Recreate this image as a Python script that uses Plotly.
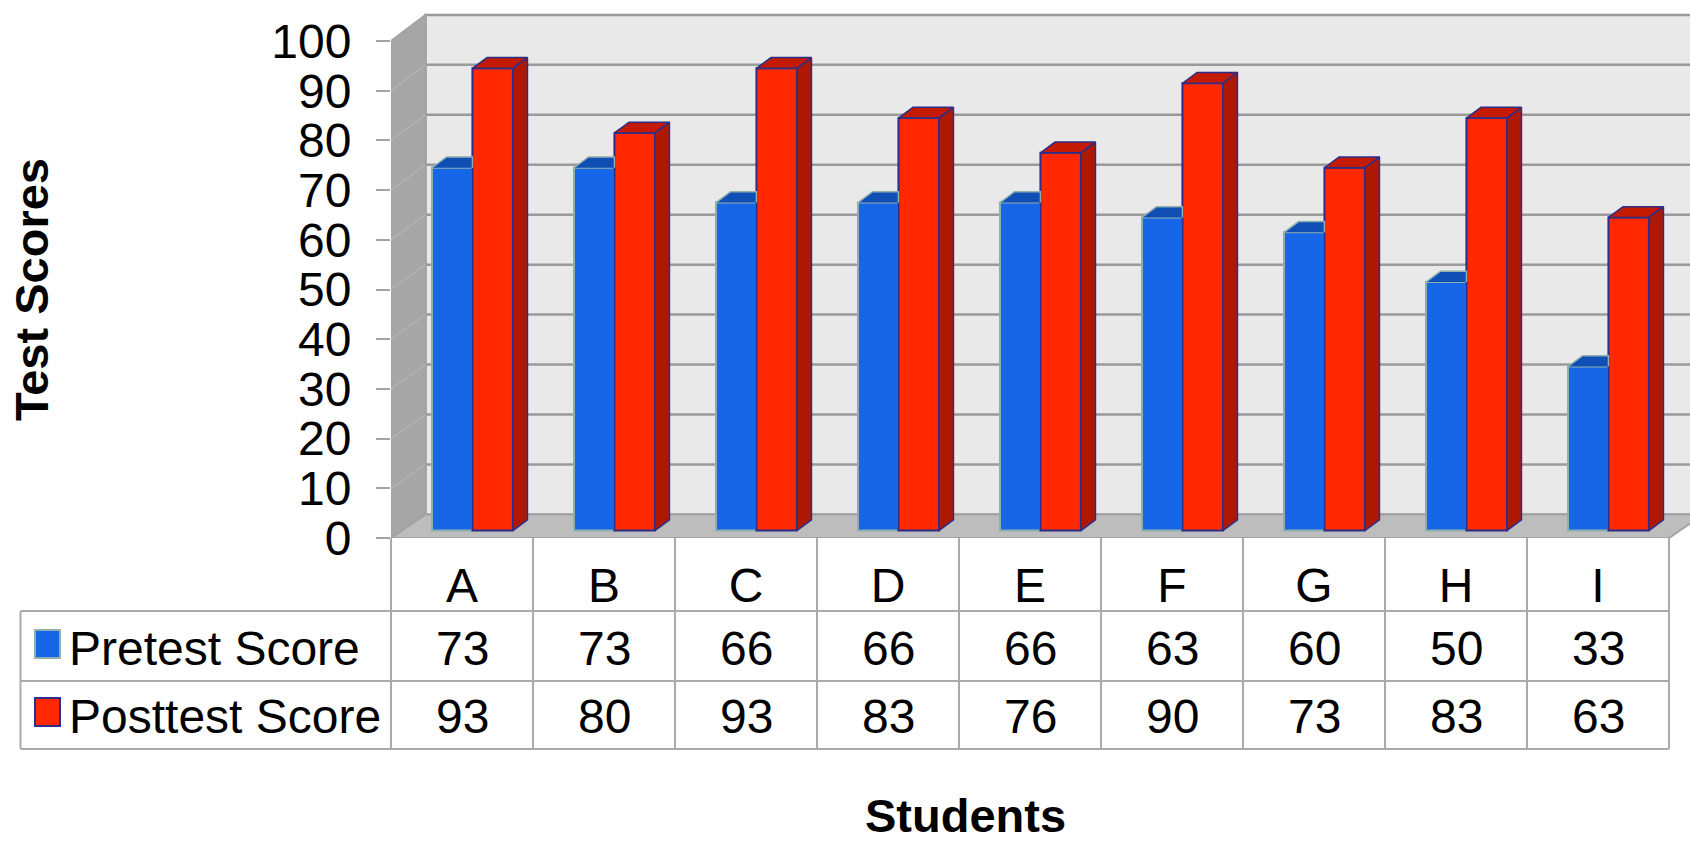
import plotly.graph_objects as go

students = ["A", "B", "C", "D", "E", "F", "G", "H", "I"]
pretest = [73, 73, 66, 66, 66, 63, 60, 50, 33]
posttest = [93, 80, 93, 83, 76, 90, 73, 83, 63]
y_ticks = list(range(0, 101, 10))

FONT = "Liberation Sans"
WIDTH, HEIGHT = 1690, 842
LEFT, TOP, BOTTOM = 391, 13, 538
UNIT_X, UNIT_Y = 142.0, 4.97

# Pseudo-3D projection, in axis units
WALL_DX, WALL_DY = 0.243, 4.75
BACK_SCALE = 1.005
BAR_DX, BAR_DY = 0.1025, 2.17
BAR_W = 0.285
BAR_LIFT = 1.5
BLUE_OFFSET, RED_OFFSET = -0.2115, 0.0735

WALL_LINE = "#A3A3A3"
GRID = "#9A9A9A"
TABLE_LINE = "#ABABAB"
BLUE, BLUE_TOP, BLUE_EDGE = "#1766E8", "#0F4FB5", "#8FB0AE"
RED, RED_TOP, RED_SIDE, RED_EDGE = "#FF2800", "#C41A00", "#AF1800", "#2B2F8C"


def px(x):
    return (x - LEFT) / (WIDTH - LEFT)


def py(y):
    return (BOTTOM - y) / (BOTTOM - TOP)


def back(t):
    """Height on the back wall of a value on the front axis."""
    return t * BACK_SCALE + WALL_DY


def polygon(points, fill, line=WALL_LINE, width=2):
    path = "M" + "L".join(f"{x},{y}" for x, y in points) + "Z"
    return dict(type="path", path=path, xref="x", yref="y", fillcolor=fill,
                line=dict(color=line, width=width), layer="below")


def table_line(x0, y0, x1, y1):
    return dict(type="line", xref="paper", yref="paper", x0=px(x0), x1=px(x1),
                y0=py(y0), y1=py(y1), line=dict(color=TABLE_LINE, width=2),
                layer="above")


n = len(students)
x_left, x_right = -0.5, n - 0.5
view_right = x_left + (WIDTH - LEFT) / UNIT_X
view_top = (BOTTOM - TOP) / UNIT_Y
idx = list(range(n))

shapes = [
    # back wall, left wall and floor
    polygon([(x_left + WALL_DX, back(0)), (x_right + 1, back(0)),
             (x_right + 1, back(100)), (x_left + WALL_DX, back(100))], "#E9E9E9", GRID, 2.5),
    polygon([(x_left, 0), (x_left + WALL_DX, back(0)),
             (x_left + WALL_DX, back(100)), (x_left, 100)], "#A6A6A6"),
    polygon([(x_left, 0), (x_right, 0), (x_right + WALL_DX, back(0)),
             (x_left + WALL_DX, back(0))], "#BDBDBD"),
]
for t in y_ticks[1:-1]:
    shapes.append(dict(type="line", xref="x", yref="y", layer="below",
                       x0=x_left + WALL_DX, x1=x_right + 1,
                       y0=back(t), y1=back(t),
                       line=dict(color=GRID, width=2.5)))
    shapes.append(dict(type="line", xref="x", yref="y", layer="below",
                       x0=x_left, x1=x_left + WALL_DX,
                       y0=t, y1=back(t),
                       line=dict(color="#B2B2B2", width=1.5)))

# Data table under the plot
ROW_TOP, ROW_MID, ROW_END = 611, 681, 749
TABLE_RIGHT = LEFT + n * UNIT_X
for y in (ROW_TOP, ROW_MID, ROW_END):
    shapes.append(table_line(20.5, y, TABLE_RIGHT, y))
shapes.append(table_line(20.5, ROW_TOP, 20.5, ROW_END))
for i in range(n + 1):
    x = LEFT + i * UNIT_X
    shapes.append(table_line(x, BOTTOM, x, ROW_END))

# Legend keys inside the table's first column
for y0, y1, fill, edge in ((630, 658, BLUE, BLUE_EDGE), (698, 726, RED, RED_EDGE)):
    shapes.append(dict(type="rect", xref="paper", yref="paper", x0=px(35), x1=px(60),
                       y0=py(y0), y1=py(y1), fillcolor=fill,
                       line=dict(color=edge, width=2), layer="above"))

annotations = []
for name, values, yc in (("Pretest Score", pretest, 648), ("Posttest Score", posttest, 716)):
    annotations.append(dict(text=name, xref="paper", yref="paper", x=px(67), y=py(yc),
                            xanchor="left", yanchor="middle", showarrow=False,
                            font=dict(family=FONT, size=48, color="black")))
    for i, v in enumerate(values):
        annotations.append(dict(text=str(v), xref="x", yref="paper", x=i, y=py(yc),
                                xanchor="center", yanchor="middle", showarrow=False,
                                font=dict(family=FONT, size=48, color="black")))
annotations.append(dict(text="<b>Test Scores</b>", xref="paper", yref="paper",
                        x=px(31), y=py(290), textangle=-90, xanchor="center", yanchor="middle",
                        showarrow=False, font=dict(family=FONT, size=47, color="black")))
annotations.append(dict(text="<b>Students</b>", xref="paper", yref="paper",
                        x=px(965), y=py(815.5), xanchor="center", yanchor="middle",
                        showarrow=False, font=dict(family=FONT, size=47, color="black")))


def faces(values, offset, clip_to_next=False):
    """Outline paths for the top and right faces of a series' boxes."""
    top_x, top_y, side_x, side_y = [], [], [], []
    for i, v in enumerate(values):
        l = i + offset
        r = l + BAR_W
        t = v + BAR_LIFT
        if clip_to_next:
            # the neighbouring box hides everything right of its front face
            top_x += [l, l + BAR_DX, r, r, None]
            top_y += [t, t + BAR_DY, t + BAR_DY, t, None]
        else:
            top_x += [l, l + BAR_DX, r + BAR_DX, r, l, None]
            top_y += [t, t + BAR_DY, t + BAR_DY, t, t, None]
            side_x += [r, r + BAR_DX, r + BAR_DX, r, r, None]
            side_y += [t, t + BAR_DY, BAR_LIFT + BAR_DY, BAR_LIFT, t, None]
    return top_x, top_y, side_x, side_y


fig = go.Figure()

for name, values, offset, face, edge in (("Pretest Score", pretest, BLUE_OFFSET, BLUE, BLUE_EDGE),
                                         ("Posttest Score", posttest, RED_OFFSET, RED, RED_EDGE)):
    fig.add_trace(go.Bar(name=name, x=idx, y=values, base=BAR_LIFT, width=BAR_W,
                         offset=offset, marker=dict(color=face, line=dict(color=edge, width=2))))

blue_top_x, blue_top_y, _, _ = faces(pretest, BLUE_OFFSET, clip_to_next=True)
fig.add_trace(go.Scatter(x=blue_top_x, y=blue_top_y, mode="lines", fill="toself",
                         fillcolor=BLUE_TOP, line=dict(color=BLUE_EDGE, width=1.5),
                         hoverinfo="skip"))
red_top_x, red_top_y, red_side_x, red_side_y = faces(posttest, RED_OFFSET)
fig.add_trace(go.Scatter(x=red_top_x, y=red_top_y, mode="lines", fill="toself",
                         fillcolor=RED_TOP, line=dict(color=RED_EDGE, width=1.5),
                         hoverinfo="skip"))
fig.add_trace(go.Scatter(x=red_side_x, y=red_side_y, mode="lines", fill="toself",
                         fillcolor=RED_SIDE, line=dict(color=RED_EDGE, width=1.5),
                         hoverinfo="skip"))

fig.update_layout(
    width=WIDTH, height=HEIGHT, autosize=False,
    margin=dict(l=LEFT, r=0, t=TOP, b=HEIGHT - BOTTOM, pad=0),
    paper_bgcolor="white", plot_bgcolor="white",
    showlegend=False, shapes=shapes, annotations=annotations,
    font=dict(family=FONT, color="black"),
    xaxis=dict(range=[x_left, view_right], tickmode="array", tickvals=idx, ticktext=students,
               tickfont=dict(family=FONT, size=48), ticks="", showgrid=False, zeroline=False,
               showline=False, ticklabelstandoff=15, fixedrange=True),
    yaxis=dict(range=[0, view_top], tickmode="array", tickvals=y_ticks,
               tickfont=dict(family=FONT, size=48), ticks="outside", ticklen=14, tickwidth=2,
               tickcolor=WALL_LINE, showgrid=False, zeroline=False, showline=False,
               ticklabelstandoff=15, fixedrange=True),
)

fig.write_html("out.html", config=dict(displayModeBar=False))
